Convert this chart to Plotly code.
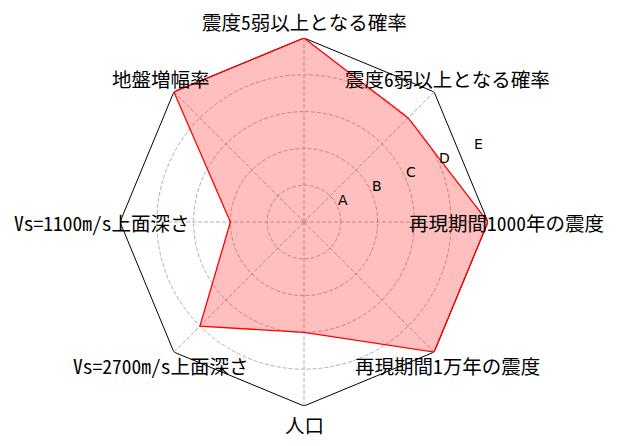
import math
import plotly.graph_objects as go

categories = ["震度5弱以上となる確率", "震度6弱以上となる確率", "再現期間1000年の震度",
              "再現期間1万年の震度", "人口", "Vs=2700m/s上面深さ",
              "Vs=1100m/s上面深さ", "地盤増幅率"]
values = [5, 4, 5, 5, 3, 4, 2, 5]
rank_vals = [1, 2, 3, 4, 5]
rank_text = ["A", "B", "C", "D", "E"]
r_max = 5

cjk = "Noto Sans Mono CJK JP, Noto Sans CJK JP, sans-serif"

W, H = 618, 446
CX, CY, RAD = 296, 214, 184  # polar centre / radius in figure pixels
RLABEL_ANGLE = 22.5

fig = go.Figure()

# octagon frame
fig.add_trace(go.Scatterpolar(
    r=[r_max] * (len(categories) + 1), theta=categories + categories[:1],
    mode="lines", line=dict(color="black", width=1), hoverinfo="skip",
    showlegend=False))

# data polygon
fig.add_trace(go.Scatterpolar(
    r=values + values[:1], theta=categories + categories[:1],
    mode="lines", fill="toself", fillcolor="rgba(255,0,0,0.25)",
    line=dict(color="red", width=1.3), showlegend=False))

annotations = []
# category labels, centred at 1.1 x outer radius (like matplotlib thetagrids)
n = len(categories)
for i, cat in enumerate(categories):
    ang = math.radians(90 - i * 360 / n)
    px = CX + 1.1 * RAD * math.cos(ang)
    py = max(CY - 1.1 * RAD * math.sin(ang), 13.5)
    annotations.append(dict(
        x=px / W, y=1 - py / H, xref="paper", yref="paper",
        text=cat, showarrow=False, xanchor="center", yanchor="middle",
        font=dict(family=cjk, size=19.5, color="black")))

# radial (rank) labels along the 22.5 deg line, offset like matplotlib rgrids
a = math.radians(RLABEL_ANGLE)
for v, t in zip(rank_vals, rank_text):
    rr = v / r_max * RAD
    px = CX + rr * math.cos(a)
    py = CY - rr * math.sin(a)
    annotations.append(dict(
        x=px / W, y=1 - py / H, xref="paper", yref="paper",
        text=t, showarrow=False, xanchor="center", yanchor="middle",
        xshift=5, yshift=7.5,
        font=dict(family="DejaVu Sans", size=14, color="black")))

fig.update_layout(
    width=W, height=H,
    margin=dict(l=0, r=0, t=0, b=0),
    paper_bgcolor="white",
    showlegend=False,
    annotations=annotations,
    polar=dict(
        domain=dict(x=[(CX - RAD) / W, (CX + RAD) / W],
                    y=[1 - (CY + RAD) / H, 1 - (CY - RAD) / H]),
        bgcolor="white",
        angularaxis=dict(
            rotation=90, direction="clockwise",
            showline=False, showticklabels=False, ticks="",
            showgrid=True, gridcolor="#b0b0b0", griddash="4px,2px", gridwidth=1,
        ),
        radialaxis=dict(
            range=[0, r_max], angle=RLABEL_ANGLE,
            tickvals=rank_vals, showticklabels=False,
            showline=False, ticks="",
            showgrid=True, gridcolor="#b0b0b0", griddash="4px,2px", gridwidth=1,
        ),
    ),
)

fig.write_html("out.html")
